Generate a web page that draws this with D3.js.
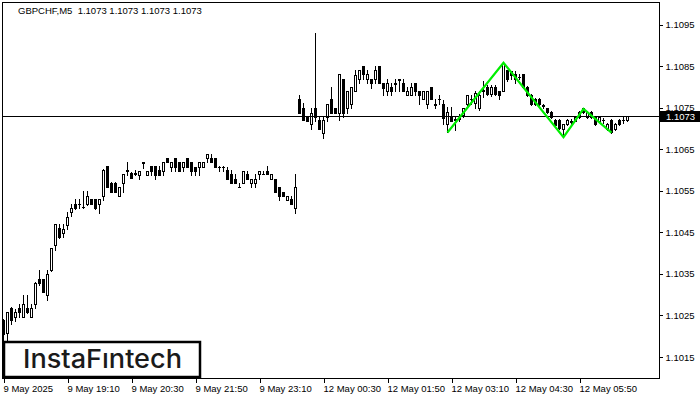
<!DOCTYPE html>
<html><head><meta charset="utf-8">
<script src="https://cdn.jsdelivr.net/npm/d3@7/dist/d3.min.js"></script>
<style>html,body{margin:0;padding:0;background:#fff;}svg{display:block;}</style>
</head><body>
<svg id="c" width="700" height="400"></svg>
<script>
const symbolTitle = "GBPCHF,M5  1.1073 1.1073 1.1073 1.1073";
const lastPrice = 1.1073;
const opens = [1.10239,1.10208,1.10268,1.10247,1.10267,1.10247,1.10267,1.10247,1.10278,1.10338,1.10338,1.10298,1.10359,1.10420,1.10460,1.10448,1.10468,1.10499,1.10518,1.10518,1.10511,1.10518,1.10529,1.10529,1.10518,1.10538,1.10610,1.10569,1.10569,1.10538,1.10568,1.10600,1.10592,1.10590,1.10588,1.10618,1.10588,1.10610,1.10610,1.10600,1.10598,1.10628,1.10608,1.10628,1.10618,1.10608,1.10628,1.10618,1.10608,1.10608,1.10608,1.10628,1.10628,1.10628,1.10608,1.10608,1.10600,1.10590,1.10578,1.10559,1.10568,1.10590,1.10568,1.10568,1.10590,1.10590,1.10598,1.10578,1.10578,1.10558,1.10548,1.10528,1.10529,1.10508,1.10771,1.10748,1.10728,1.10710,1.10748,1.10720,1.10688,1.10728,1.10771,1.10748,1.10738,1.10818,1.10748,1.10758,1.10790,1.10818,1.10850,1.10818,1.10818,1.10818,1.10850,1.10809,1.10790,1.10800,1.10809,1.10818,1.10809,1.10780,1.10780,1.10809,1.10790,1.10771,1.10758,1.10800,1.10758,1.10771,1.10759,1.10711,1.10728,1.10720,1.10725,1.10732,1.10759,1.10770,1.10760,1.10750,1.10790,1.10800,1.10782,1.10800,1.10791,1.10791,1.10841,1.10837,1.10831,1.10824,1.10831,1.10800,1.10780,1.10770,1.10770,1.10757,1.10748,1.10740,1.10720,1.10720,1.10698,1.10711,1.10716,1.10719,1.10728,1.10748,1.10728,1.10740,1.10728,1.10719,1.10720,1.10699,1.10720,1.10699,1.10720,1.10720,1.10720];
const highs = [1.10241,1.10258,1.10270,1.10265,1.10278,1.10299,1.10299,1.10278,1.10330,1.10359,1.10338,1.10359,1.10412,1.10469,1.10469,1.10469,1.10498,1.10518,1.10529,1.10530,1.10549,1.10549,1.10530,1.10530,1.10529,1.10602,1.10610,1.10570,1.10570,1.10560,1.10590,1.10618,1.10595,1.10600,1.10598,1.10619,1.10598,1.10610,1.10610,1.10610,1.10618,1.10628,1.10618,1.10628,1.10618,1.10618,1.10628,1.10618,1.10608,1.10618,1.10618,1.10638,1.10638,1.10628,1.10609,1.10610,1.10608,1.10600,1.10590,1.10568,1.10598,1.10598,1.10578,1.10590,1.10598,1.10598,1.10610,1.10590,1.10578,1.10558,1.10548,1.10538,1.10538,1.10590,1.10780,1.10760,1.10728,1.10748,1.10929,1.10728,1.10728,1.10758,1.10800,1.10748,1.10830,1.10818,1.10790,1.10800,1.10841,1.10841,1.10850,1.10841,1.10818,1.10850,1.10850,1.10809,1.10818,1.10809,1.10818,1.10818,1.10818,1.10800,1.10809,1.10809,1.10790,1.10790,1.10790,1.10800,1.10771,1.10780,1.10768,1.10752,1.10752,1.10728,1.10735,1.10748,1.10780,1.10780,1.10790,1.10790,1.10815,1.10805,1.10805,1.10805,1.10791,1.10858,1.10841,1.10839,1.10839,1.10830,1.10831,1.10802,1.10782,1.10772,1.10772,1.10759,1.10750,1.10742,1.10722,1.10722,1.10711,1.10722,1.10722,1.10730,1.10742,1.10749,1.10742,1.10742,1.10730,1.10730,1.10725,1.10713,1.10722,1.10713,1.10722,1.10728,1.10730];
const lows = [1.10191,1.10191,1.10229,1.10237,1.10247,1.10246,1.10256,1.10246,1.10267,1.10323,1.10306,1.10287,1.10357,1.10408,1.10436,1.10438,1.10457,1.10489,1.10505,1.10508,1.10509,1.10516,1.10518,1.10507,1.10497,1.10528,1.10559,1.10547,1.10547,1.10537,1.10548,1.10588,1.10580,1.10588,1.10578,1.10604,1.10587,1.10588,1.10578,1.10588,1.10588,1.10618,1.10598,1.10598,1.10598,1.10598,1.10608,1.10588,1.10588,1.10588,1.10607,1.10618,1.10618,1.10608,1.10598,1.10598,1.10578,1.10568,1.10568,1.10558,1.10568,1.10578,1.10558,1.10558,1.10578,1.10590,1.10590,1.10578,1.10548,1.10528,1.10538,1.10528,1.10518,1.10497,1.10738,1.10720,1.10719,1.10698,1.10719,1.10698,1.10678,1.10719,1.10738,1.10738,1.10720,1.10728,1.10738,1.10748,1.10790,1.10809,1.10818,1.10809,1.10798,1.10809,1.10809,1.10780,1.10780,1.10780,1.10790,1.10790,1.10790,1.10780,1.10780,1.10780,1.10758,1.10771,1.10748,1.10771,1.10748,1.10758,1.10711,1.10691,1.10719,1.10696,1.10718,1.10728,1.10756,1.10759,1.10750,1.10745,1.10775,1.10780,1.10778,1.10780,1.10770,1.10791,1.10815,1.10818,1.10809,1.10818,1.10798,1.10778,1.10757,1.10756,1.10756,1.10748,1.10738,1.10726,1.10706,1.10698,1.10679,1.10709,1.10710,1.10717,1.10726,1.10738,1.10726,1.10726,1.10709,1.10717,1.10712,1.10697,1.10690,1.10697,1.10709,1.10712,1.10718];
const closes = [1.10205,1.10258,1.10239,1.10258,1.10258,1.10278,1.10258,1.10267,1.10327,1.10327,1.10307,1.10350,1.10412,1.10469,1.10438,1.10458,1.10488,1.10509,1.10508,1.10517,1.10510,1.10538,1.10518,1.10508,1.10529,1.10600,1.10560,1.10548,1.10548,1.10560,1.10590,1.10598,1.10580,1.10593,1.10598,1.10617,1.10598,1.10598,1.10588,1.10588,1.10618,1.10618,1.10618,1.10608,1.10598,1.10618,1.10608,1.10598,1.10598,1.10618,1.10618,1.10638,1.10618,1.10608,1.10607,1.10607,1.10578,1.10568,1.10568,1.10559,1.10598,1.10578,1.10578,1.10578,1.10598,1.10591,1.10590,1.10590,1.10548,1.10538,1.10538,1.10538,1.10518,1.10558,1.10738,1.10720,1.10719,1.10738,1.10728,1.10698,1.10720,1.10758,1.10738,1.10738,1.10830,1.10738,1.10790,1.10800,1.10829,1.10841,1.10830,1.10830,1.10809,1.10841,1.10809,1.10798,1.10809,1.10790,1.10808,1.10817,1.10790,1.10790,1.10800,1.10790,1.10780,1.10790,1.10790,1.10771,1.10757,1.10770,1.10725,1.10740,1.10719,1.10723,1.10723,1.10748,1.10780,1.10771,1.10785,1.10780,1.10792,1.10782,1.10800,1.10782,1.10780,1.10857,1.10818,1.10829,1.10818,1.10824,1.10800,1.10780,1.10759,1.10759,1.10759,1.10755,1.10740,1.10728,1.10708,1.10700,1.10711,1.10720,1.10717,1.10728,1.10740,1.10740,1.10740,1.10728,1.10711,1.10728,1.10721,1.10711,1.10692,1.10711,1.10711,1.10721,1.10730];
const priceTicks = [1.1015,1.1025,1.1035,1.1045,1.1055,1.1065,1.1075,1.1085,1.1095];
const timeTickBars = [0,16,32,48,64,80,96,112,128,144];
const timeTickLabels = ["9 May 2025","9 May 19:10","9 May 20:30","9 May 21:50","9 May 23:10","12 May 00:30","12 May 01:50","12 May 03:10","12 May 04:30","12 May 05:50"];
const patternBars = [111,125,140,145,152];
const patternPrices = [1.10690,1.10858,1.10679,1.10747,1.10690];

const svg = d3.select("#c");
const font = "'Liberation Sans', Arial, sans-serif";
const L = 2, R = 659, T = 2, B = 378;
const n = opens.length;
const x = d3.scaleLinear().domain([0, n - 1]).range([3, 3 + 4 * (n - 1)]);
const y = d3.scaleLinear().domain([1.1015, 1.1095]).range([357, 24.5]);
const py = v => Math.round(y(v)) + 0.5;

svg.append("rect").attr("x", 0).attr("y", 0).attr("width", 700).attr("height", 400).attr("fill", "#fff");

const gC = svg.append("g").attr("shape-rendering", "crispEdges");
d3.range(n).forEach(i => {
  const cx = x(i);
  const o = opens[i], c = closes[i];
  gC.append("line").attr("x1", cx + 0.5).attr("x2", cx + 0.5)
    .attr("y1", Math.round(y(highs[i]))).attr("y2", Math.round(y(lows[i])) + 1)
    .attr("stroke", "#000").attr("stroke-width", 1);
  const t = Math.round(y(Math.max(o, c))), b = Math.round(y(Math.min(o, c)));
  if (b - t < 1) {
    gC.append("line").attr("x1", cx - 1).attr("x2", cx + 2).attr("y1", t + 0.5).attr("y2", t + 0.5)
      .attr("stroke", "#000");
  } else {
    gC.append("rect").attr("x", cx - 0.5).attr("y", t + 0.5).attr("width", 2).attr("height", b - t)
      .attr("fill", c >= o ? "#fff" : "#000").attr("stroke", "#000").attr("stroke-width", 1);
  }
});

// last price line
svg.append("line").attr("x1", L).attr("x2", R).attr("y1", py(lastPrice)).attr("y2", py(lastPrice))
  .attr("stroke", "#000").attr("shape-rendering", "crispEdges");

// pattern line
svg.append("path")
  .datum(patternBars.map((b, i) => [b, patternPrices[i]]))
  .attr("d", d3.line().x(d => x(d[0]) + 0.5).y(d => y(d[1])))
  .attr("fill", "none").attr("stroke", "#00ee00").attr("stroke-width", 2.2).attr("stroke-linejoin", "miter");

// frame
svg.append("rect").attr("x", L + 0.5).attr("y", T + 0.5).attr("width", R - L).attr("height", B - T)
  .attr("fill", "none").attr("stroke", "#000").attr("shape-rendering", "crispEdges");

// right axis
const ay = svg.append("g").attr("transform", `translate(${R + 0.5},0)`)
  .call(d3.axisRight(y).tickValues(priceTicks).tickFormat(d3.format(".4f")).tickSize(3).tickPadding(3));
ay.select(".domain").remove();
ay.selectAll("line").attr("shape-rendering", "crispEdges");
ay.selectAll("text").attr("font-family", font).attr("font-size", "9.5px").attr("fill", "#000");

// price label
svg.append("rect").attr("x", R).attr("y", py(lastPrice) - 5.5).attr("width", 41).attr("height", 11).attr("fill", "#000");
svg.append("text").attr("x", R + 7).attr("y", py(lastPrice) + 3.5).text(d3.format(".4f")(lastPrice))
  .attr("font-family", font).attr("font-size", "9.5px").attr("fill", "#fff");

// bottom axis
const ax = svg.append("g").attr("transform", `translate(0.5,${B + 0.5})`)
  .call(d3.axisBottom(x).tickValues(timeTickBars).tickFormat((d, i) => timeTickLabels[i]).tickSize(4).tickPadding(3));
ax.select(".domain").remove();
ax.selectAll("line").attr("shape-rendering", "crispEdges");
ax.selectAll("text").attr("font-family", font).attr("font-size", "9.5px").attr("fill", "#000")
  .attr("text-anchor", "start").attr("dx", "-0.5");

// title
svg.append("text").attr("x", 18).attr("y", 14).attr("xml:space", "preserve").style("white-space", "pre")
  .text(symbolTitle).attr("font-family", font).attr("font-size", "9.5px").attr("fill", "#000");

// logo
svg.append("rect").attr("x", 4).attr("y", 342).attr("width", 196).attr("height", 35)
  .attr("fill", "#fff").attr("stroke", "#000").attr("stroke-width", 2.5);
svg.append("text").attr("x", 23).attr("y", 368).text("InstaF\u0131ntech")
  .attr("font-family", "Inter, 'Open Sans', sans-serif").attr("font-size", "26px").attr("font-weight", 500)
  .attr("fill", "#1a1a1a").attr("textLength", 159).attr("lengthAdjust", "spacingAndGlyphs");
</script>
</body></html>
